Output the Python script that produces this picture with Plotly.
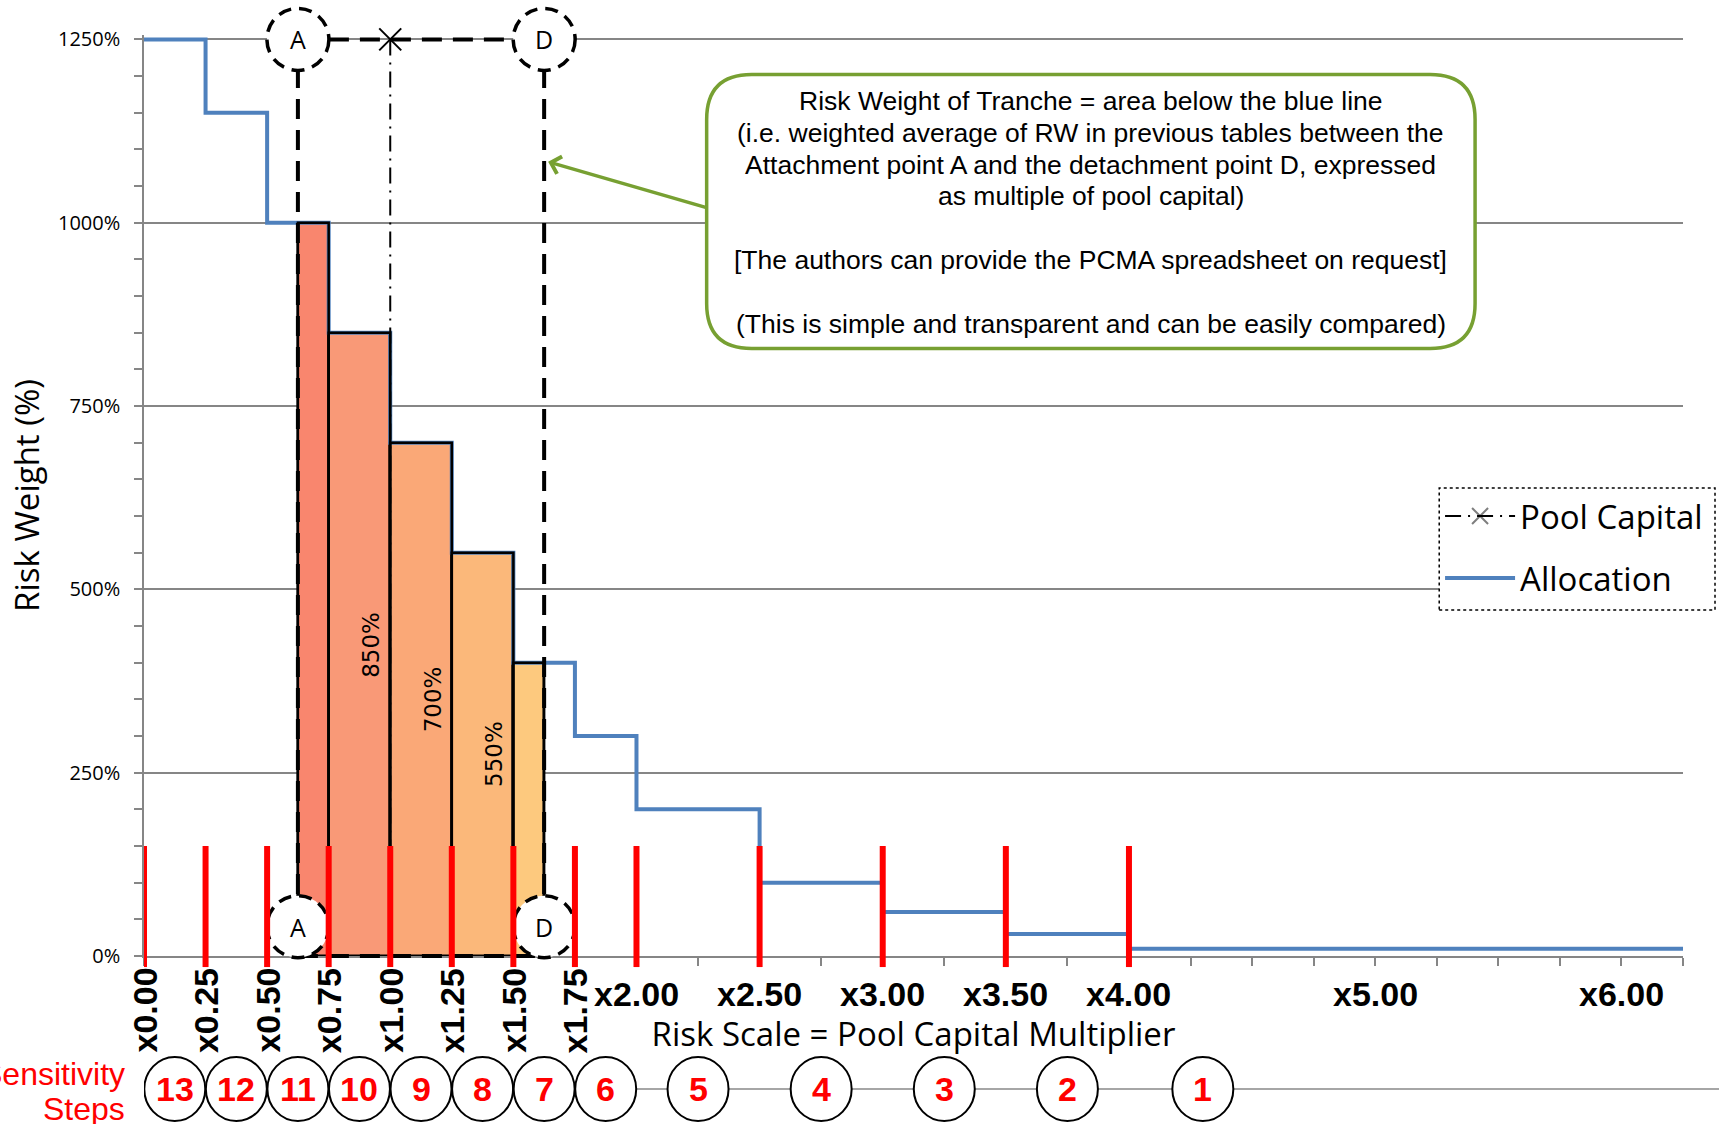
import plotly.graph_objects as go

# Allocation: risk weight (%) for each band of the pool-capital multiplier
band_edges = [0.00, 0.25, 0.50, 0.75, 1.00, 1.25, 1.50, 1.75, 2.00, 2.50, 3.00, 3.50, 4.00, 6.25]
band_rw = [1250, 1150, 1000, 850, 700, 550, 400, 300, 200, 100, 60, 30, 10]

# Tranche slices between attachment point A and detachment point D
tranche_left = [0.625, 0.75, 1.00, 1.25, 1.50]
tranche_right = [0.75, 1.00, 1.25, 1.50, 1.625]
tranche_rw = [1000, 850, 700, 550, 400]
tranche_labelled = [False, True, True, True, False]
tranche_colors = ["#F9866E", "#F99977", "#FAA877", "#FBB87A", "#FDC97E"]

attach_point = 0.625
detach_point = 1.625
pool_capital = 1.00
rw_ceiling = 1250

# Axis labelling
rotated_ticks = [0.00, 0.25, 0.50, 0.75, 1.00, 1.25, 1.50, 1.75]
flat_ticks = [2.00, 2.50, 3.00, 3.50, 4.00, 5.00, 6.00]

# Sensitivity steps: boundaries (red marks) and numbered step centres
step_boundaries = [0.00, 0.25, 0.50, 0.75, 1.00, 1.25, 1.50, 1.75, 2.00, 2.50, 3.00, 3.50, 4.00]
step_numbers = [13, 12, 11, 10, 9, 8, 7, 6, 5, 4, 3, 2, 1]
step_centers = [0.125, 0.375, 0.625, 0.875, 1.125, 1.375, 1.625, 1.875, 2.25, 2.75, 3.25, 3.75, 4.30]

# Call-out text, one entry per printed line (None = blank line)
callout_lines = [
    "Risk Weight of Tranche = area below the blue line",
    "(i.e. weighted average of RW in previous tables between the",
    "Attachment point A and the detachment point D, expressed",
    "as multiple of pool capital)",
    None,
    "[The authors can provide the PCMA spreadsheet on request]",
    None,
    "(This is simple and transparent and can be easily compared)",
]

X_MAX = 6.25
Y_MAX = 1256
GRID = "#868686"
BLUE = "#4F81BD"
GREEN = "#77A032"
RED = "#FF0000"
SANS = "Liberation Sans, Arial, sans-serif"
OPEN = "Open Sans, sans-serif"


def py(v):
    """Risk-weight value -> paper fraction of the plot height."""
    return v / Y_MAX


fig = go.Figure()

centers = [(l + r) / 2 for l, r in zip(tranche_left, tranche_right)]
fig.add_trace(go.Bar(
    x=centers, y=tranche_rw,
    width=[r - l for l, r in zip(tranche_left, tranche_right)],
    marker=dict(color=tranche_colors, line=dict(color="black", width=2.5)),
    showlegend=False, hoverinfo="skip",
))

fig.add_trace(go.Scatter(
    x=band_edges, y=band_rw + [band_rw[-1]], mode="lines",
    line=dict(color=BLUE, width=4, shape="hv"),
    name="Allocation", legendrank=2, legendgroup="alloc", hoverinfo="skip",
))

# Black outlines of the tranche slices, kept on top of the allocation line
ox, oy = [], []
for l, r, h in zip(tranche_left, tranche_right, tranche_rw):
    ox += [l, l, r, r, None]
    oy += [0, h, h, 0, None]
fig.add_trace(go.Scatter(
    x=ox, y=oy, mode="lines", line=dict(color="black", width=2.5),
    showlegend=False, hoverinfo="skip",
))

fig.add_trace(go.Scatter(
    x=[pool_capital, pool_capital], y=[rw_ceiling, 0], mode="lines+markers",
    line=dict(color="black", width=2, dash="16px,7px,2px,7px"),
    marker=dict(symbol="x-thin", size=22, color="black", opacity=[1, 0],
                line=dict(color="black", width=2)),
    cliponaxis=False, name="Pool Capital", legendrank=1, legendgroup="pool",
    hoverinfo="skip",
))

shapes = []
dash_line = dict(color="black", width=4, dash="20px,11px")

# A/D bracket: verticals, top and bottom edges
for xv in (attach_point, detach_point):
    shapes.append(dict(type="line", xref="x", yref="y", x0=xv, x1=xv, y0=0, y1=rw_ceiling,
                       line=dash_line, layer="above"))
shapes.append(dict(type="line", xref="x", yref="y", x0=attach_point, x1=detach_point,
                   y0=rw_ceiling, y1=rw_ceiling, line=dash_line, layer="above"))
shapes.append(dict(type="line", xref="x", yref="paper", x0=attach_point, x1=detach_point,
                   y0=0, y1=0, line=dash_line, layer="above"))

# Dashed circles marking A and D at the top and bottom of the bracket
letter_annots = []
for xv, letter in ((attach_point, "A"), (detach_point, "D")):
    for yv in (rw_ceiling, 40):
        shapes.append(dict(
            type="circle", xref="x", yref="paper",
            xsizemode="pixel", ysizemode="pixel", xanchor=xv, yanchor=py(yv),
            x0=-31, x1=31, y0=-31, y1=31,
            fillcolor="white", line=dict(color="black", width=3.5, dash="13px,8px"),
            layer="above",
        ))
        letter_annots.append(dict(
            x=xv, y=py(yv), xref="x", yref="paper", text=letter, showarrow=False,
            font=dict(family=OPEN, size=25, color="black"),
            xanchor="center", yanchor="middle",
        ))

# Red sensitivity boundary marks
for xv in step_boundaries:
    shapes.append(dict(type="line", xref="x", yref="paper", x0=xv, x1=xv,
                       y0=-0.012, y1=py(150), line=dict(color=RED, width=6), layer="above"))

# Sensitivity step track and circles
STEP_Y = -0.1444
shapes.append(dict(type="line", xref="paper", yref="paper", x0=0, x1=1.03,
                   y0=STEP_Y, y1=STEP_Y, line=dict(color="#A6A6A6", width=2), layer="above"))
step_annots = []
for xv, n in zip(step_centers, step_numbers):
    shapes.append(dict(
        type="circle", xref="x", yref="paper",
        xsizemode="pixel", ysizemode="pixel", xanchor=xv, yanchor=STEP_Y,
        x0=-30.5, x1=30.5, y0=-32, y1=32,
        fillcolor="white", line=dict(color="black", width=2), layer="above",
    ))
    step_annots.append(dict(
        x=xv, y=STEP_Y, xref="x", yref="paper", text=f"<b>{n}</b>", showarrow=False,
        font=dict(family=SANS, size=34, color=RED), xanchor="center", yanchor="middle",
    ))

# Rounded call-out box
bx0, bx1, by0, by1 = 0.3656, 0.8649, 0.6595, 0.9571
rx, ry = 45 / 1540, 45 / 921
path = (
    f"M{bx0 + rx},{by1} L{bx1 - rx},{by1} Q{bx1},{by1} {bx1},{by1 - ry} "
    f"L{bx1},{by0 + ry} Q{bx1},{by0} {bx1 - rx},{by0} "
    f"L{bx0 + rx},{by0} Q{bx0},{by0} {bx0},{by0 + ry} "
    f"L{bx0},{by1 - ry} Q{bx0},{by1} {bx0 + rx},{by1} Z"
)
shapes.append(dict(type="path", xref="paper", yref="paper", path=path,
                   fillcolor="white", line=dict(color=GREEN, width=3.5), layer="above"))

# White panel with dotted frame behind the legend
shapes.append(dict(type="rect", xref="paper", yref="paper",
                   x0=0.8416, x1=1.0208, y0=0.3757, y1=0.5081, fillcolor="white",
                   line=dict(color="black", width=1.5, dash="dot"), layer="above"))

annotations = []

# Value labels inside the tranche slices, written bottom-to-top at half height
for xc, rw, show in zip(centers, tranche_rw, tranche_labelled):
    if show:
        annotations.append(dict(
            x=xc, y=rw / 2, xref="x", yref="y", text=f"{rw}%", showarrow=False,
            textangle=-90, xshift=12,
            font=dict(family="DejaVu Sans, Verdana", size=23, color="black"),
            xanchor="center", yanchor="middle",
        ))

for xv in rotated_ticks:
    annotations.append(dict(
        x=xv, y=0, xref="x", yref="paper", text=f"<b>x{xv:.2f}</b>", showarrow=False,
        textangle=-90, font=dict(family=SANS, size=34, color="black"),
        xanchor="center", yanchor="top", yshift=-10,
    ))
for xv in flat_ticks:
    annotations.append(dict(
        x=xv, y=0, xref="x", yref="paper", text=f"<b>x{xv:.2f}</b>", showarrow=False,
        font=dict(family=SANS, size=34, color="black"),
        xanchor="center", yanchor="middle", yshift=-38,
    ))

annotations += letter_annots + step_annots

for word, shift in (("Sensitivity", -118), ("Steps", -153)):
    annotations.append(dict(
        x=0, y=0, xref="paper", yref="paper", text=word, showarrow=False,
        xanchor="right", yanchor="middle", xshift=-17, yshift=shift,
        font=dict(family=SANS, size=32, color=RED),
    ))

for i, line in enumerate(callout_lines):
    if line is None:
        continue
    annotations.append(dict(
        x=(bx0 + bx1) / 2, y=by1, xref="paper", yref="paper", text=line,
        showarrow=False, xanchor="center", yanchor="middle", yshift=-(26.4 + 31.8 * i),
        font=dict(family=SANS, size=26.5, color="black"),
    ))

annotations.append(dict(
    x=detach_point, y=1083, xref="x", yref="y", text="", showarrow=True,
    ax=159, ay=46, arrowhead=4, arrowsize=1, arrowwidth=3.5, arrowcolor=GREEN, xshift=4,
))

fig.update_layout(
    width=1719, height=1124,
    margin=dict(l=144, r=35, t=35, b=168),
    plot_bgcolor="white", paper_bgcolor="white",
    bargap=0, barmode="overlay",
    shapes=shapes, annotations=annotations,
    legend=dict(
        x=0.8416, y=0.5081, xanchor="left", yanchor="top",
        bgcolor="rgba(0,0,0,0)", borderwidth=0,
        font=dict(family=OPEN, size=33, color="black"),
        tracegroupgap=16, itemwidth=70,
    ),
    xaxis=dict(
        range=[0, X_MAX], showline=True, linecolor=GRID, linewidth=1.5,
        ticks="outside", tickcolor=GRID, ticklen=8, tickwidth=1.5, tick0=0, dtick=0.25,
        showticklabels=False, showgrid=False, zeroline=False,
        title=dict(text="Risk Scale = Pool Capital Multiplier",
                   font=dict(family=OPEN, size=33, color="black"), standoff=58),
    ),
    yaxis=dict(
        range=[0, Y_MAX], tickmode="linear", tick0=0, dtick=250, ticksuffix="%",
        showline=True, linecolor=GRID, linewidth=1.5,
        ticks="outside", tickcolor=GRID, ticklen=8, tickwidth=1.5,
        showgrid=True, gridcolor=GRID, gridwidth=1.5, zeroline=False,
        tickfont=dict(family=OPEN, size=20, color="black"), ticklabelstandoff=10,
        minor=dict(dtick=50, tick0=0, ticks="outside", ticklen=8, tickcolor=GRID,
                   tickwidth=1.5, showgrid=False),
        title=dict(text="Risk Weight (%)", font=dict(family=OPEN, size=33, color="black"),
                   standoff=8),
    ),
)

fig.write_html("out.html")
